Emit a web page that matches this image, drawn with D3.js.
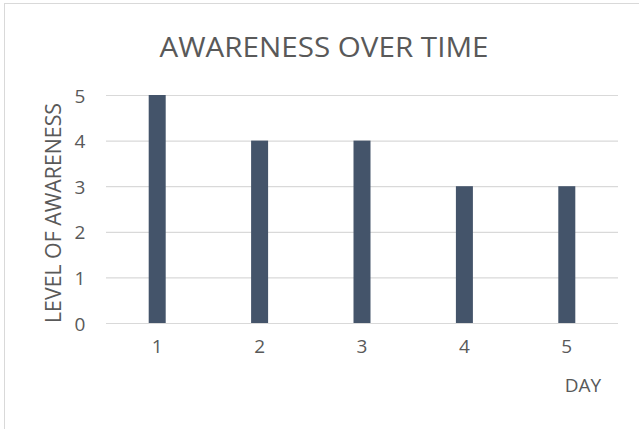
<!DOCTYPE html>
<html>
<head>
<meta charset="utf-8">
<script src="https://cdn.jsdelivr.net/npm/d3@7"></script>
<style>
  body { margin: 0; background: #fff; }
  text { font-family: "Open Sans", "Noto Sans", sans-serif; fill: #595959; }
</style>
</head>
<body>
<script>
// chart data
const days = ["1", "2", "3", "4", "5"];
const awareness = [5, 4, 4, 3, 3];
const yTicks = [0, 1, 2, 3, 4, 5];

const width = 639, height = 429;
const plot = { left: 106, right: 618, top: 95, bottom: 323 };

const svg = d3.select("body").append("svg")
    .attr("width", width)
    .attr("height", height);

// outer chart frame
svg.append("rect")
    .attr("x", 4.5).attr("y", 3.5)
    .attr("width", 660).attr("height", 460)
    .attr("fill", "#fff")
    .attr("stroke", "#d9d9d9");

const x = d3.scaleBand()
    .domain(days)
    .range([plot.left, plot.right])
    .paddingInner(0.834)
    .paddingOuter(0.417);

const y = d3.scaleLinear()
    .domain([0, 5])
    .range([plot.bottom, plot.top]);

// gridlines
svg.append("g")
    .selectAll("line")
    .data(yTicks)
    .join("line")
    .attr("x1", plot.left).attr("x2", plot.right)
    .attr("y1", d => y(d) + 0.5).attr("y2", d => y(d) + 0.5)
    .attr("stroke", "#d9d9d9")
    .attr("stroke-width", 1.2);

// bars
svg.append("g")
    .selectAll("rect")
    .data(awareness)
    .join("rect")
    .attr("x", (d, i) => x(days[i]))
    .attr("y", d => y(d))
    .attr("width", x.bandwidth())
    .attr("height", d => y(0) - y(d))
    .attr("fill", "#44546a");

// y tick labels
const yAxis = d3.axisLeft(y).tickValues(yTicks).tickFormat(d3.format("d")).tickSize(0).tickPadding(0);
svg.append("g")
    .attr("transform", `translate(${plot.left - 26},1)`)
    .call(yAxis)
    .call(g => g.select(".domain").remove())
    .selectAll("text")
    .attr("text-anchor", "middle")
    .style("font-size", "19px")
    .style("fill", "#595959");

// x tick labels
const xAxis = d3.axisBottom(x).tickSize(0).tickPadding(0);
svg.append("g")
    .attr("transform", `translate(0,${plot.bottom + 16})`)
    .call(xAxis)
    .call(g => g.select(".domain").remove())
    .selectAll("text")
    .style("font-size", "19px")
    .style("fill", "#595959");

// title
svg.append("text")
    .attr("x", 324).attr("y", 57)
    .attr("text-anchor", "middle")
    .attr("textLength", 329)
    .attr("lengthAdjust", "spacingAndGlyphs")
    .style("font-size", "28px")
    .text("AWARENESS OVER TIME");

// axis titles
svg.append("text")
    .attr("transform", `translate(61,213) rotate(-90)`)
    .attr("text-anchor", "middle")
    .attr("textLength", 220)
    .attr("lengthAdjust", "spacingAndGlyphs")
    .style("font-size", "21px")
    .text("LEVEL OF AWARENESS");

svg.append("text")
    .attr("x", 583).attr("y", 392)
    .attr("text-anchor", "middle")
    .style("font-size", "19px")
    .text("DAY");
</script>
</body>
</html>
